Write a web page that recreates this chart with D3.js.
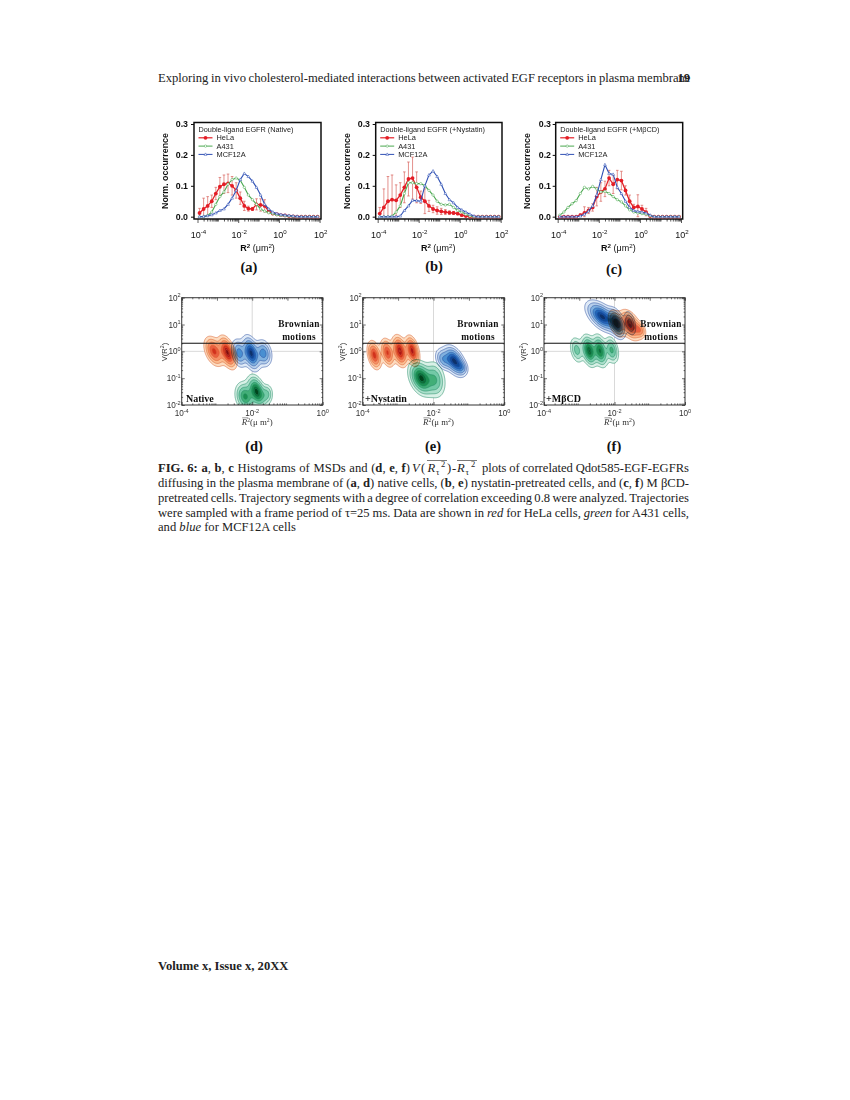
<!DOCTYPE html>
<html><head><meta charset="utf-8">
<script src="https://cdnjs.cloudflare.com/ajax/libs/d3/7.8.5/d3.min.js"></script>
<style>html,body{margin:0;padding:0;background:#fff}svg{display:block}</style></head>
<body><svg id="c" width="850" height="1100"></svg>
<script>
const binExp=[-3.9,-3.7,-3.5,-3.3,-3.1,-2.9,-2.7,-2.5,-2.3,-2.1,-1.9,-1.7,-1.5,-1.3,-1.1,-0.9,-0.7,-0.5,-0.3,-0.1,0.1,0.3,0.5,0.7,0.9,1.1,1.3,1.5,1.7,1.9];
const helaA=[.012,.025,.035,.05,.075,.097,.105,.108,.10,.085,.06,.035,.026,.025,.04,.038,.035,.018,.01,.008,.005,.004,.002,.001,0,0,0,0,0,0];
const a431A=[0,0,.004,.015,.04,.065,.08,.105,.12,.125,.118,.095,.07,.055,.04,.025,.018,.013,.01,.006,.004,.003,.002,.001,0,0,0,0,0,0];
const mcfA=[0,.001,.003,.006,.012,.02,.025,.04,.06,.085,.12,.14,.13,.115,.095,.07,.04,.025,.015,.01,.007,.005,.004,.002,.001,0,0,0,0,0];
const errA=[.015,.035,.03,.02,.02,.03,.03,.03,.03,.025,.02,.015,.008,.005,.018,.02,.02,.008,.003,.002,0,0,0,0,0,0,0,0,0,0];
const helaB=[.01,.03,.05,.055,.053,.07,.095,.122,.125,.095,.063,.05,.035,.025,.02,.017,.015,.013,.012,.01,.005,.002,0,0,0,0,0,0,0,0];
const a431B=[0,0,0,.002,.015,.035,.075,.11,.11,.107,.107,.10,.085,.07,.05,.04,.038,.04,.03,.02,.015,.008,.002,0,0,0,0,0,0,0];
const mcfB=[0,0,0,0,0,.002,.02,.035,.053,.052,.05,.10,.135,.148,.13,.105,.075,.055,.045,.03,.022,.015,.008,.002,0,0,0,0,0,0];
const errB=[.02,.06,.08,.08,.05,.04,.05,.055,.068,.05,.02,.04,.018,.012,.012,.01,.008,.006,.005,.004,.002,0,0,0,0,0,0,0,0,0];
const helaC=[0,0,0,0,0,.005,.012,.02,.03,.065,.08,.09,.125,.105,.12,.117,.085,.05,.03,.033,.025,.015,.002,0,0,0,0,0,0,0];
const a431C=[.005,.015,.03,.042,.052,.075,.095,.09,.098,.09,.08,.082,.075,.065,.055,.048,.035,.022,.015,.012,.01,.008,.003,0,0,0,0,0,0,0];
const mcfC=[0,0,0,0,0,.002,.008,.018,.035,.07,.12,.168,.14,.137,.095,.075,.05,.03,.02,.017,.015,.012,.005,0,0,0,0,0,0,0];
const errC=[0,0,0,0,0,.004,.02,.01,.012,.03,.03,.025,.025,.03,.03,.03,.015,.02,.01,.038,.012,.012,0,0,0,0,0,0,0,0];
const histTitles=["Double-ligand EGFR (Native)","Double-ligand EGFR (+Nystatin)","Double-ligand EGFR (+MβCD)"];
const cellNames=["HeLa","A431","MCF12A"];
const yTickVals=[0,.1,.2,.3];
// contour lobes: log10 R2, log10 V, sigma x, sigma y, correlation, height
const redD=[[-3.08,0,.14,.27,-.4,.72],[-2.7,-.04,.125,.29,-.5,1]];
const blueD=[[-2.37,-.07,.11,.26,-.3,.6],[-2.03,-.07,.125,.31,-.4,1],[-1.68,-.07,.12,.25,-.2,.6]];
const greenD=[[-2.2,-1.69,.14,.27,-.2,.7],[-1.87,-1.5,.13,.29,-.4,1],[-1.58,-1.6,.09,.2,0,.35]];
const redE=[[-3.67,-.14,.1,.26,-.35,.75],[-3.3,-.05,.1,.26,-.35,.7],[-2.95,.01,.11,.28,-.35,.95],[-2.6,.02,.1,.27,-.4,.9]];
const greenE=[[-2.35,-1,.17,.31,-.35,1],[-1.96,-1.05,.15,.34,-.2,.5]];
const blueE=[[-1.41,-.36,.15,.27,-.45,1],[-1.72,-.3,.12,.21,-.3,.45],[-1.2,-.6,.09,.15,-.2,.3]];
const redF=[[-1.56,.98,.15,.27,-.45,.85],[-1.94,1.04,.12,.25,-.45,.6],[-1.28,.8,.09,.16,-.3,.4]];
const blueF=[[-2.35,1.29,.22,.28,-.55,1],[-1.94,1.04,.12,.27,-.45,.9],[-1.56,1.05,.09,.24,-.4,.4]];
const greenF=[[-3.07,.05,.1,.25,-.3,.4],[-2.72,.02,.11,.28,-.35,.95],[-2.41,.02,.11,.29,-.35,.85],[-2.08,.05,.1,.25,-.3,.55]];
const contourLevels=[.08,.18,.32,.5,.66,.82,.94];
const brownianLine=2;
const reds=["#fddcc0","#fbbd92","#f59168","#ea5f40","#d3301f","#ac1219","#800a10"];
const blues=["#dfeaf7","#b6cfeb","#80b1df","#4a8fd1","#2267b9","#0e4a97","#08306b"];
const greens=["#d9f1e7","#abdfcb","#73c9a6","#42ae77","#1f8f50","#0a6c36","#00441b"];

const svg=d3.select("#c");
svg.append("rect").attr("width",850).attr("height",1100).attr("fill","#fff");
const defs=svg.append("defs");
defs.append("filter").attr("id","soft").attr("x","-5%").attr("y","-5%").attr("width","110%").attr("height","110%")
  .append("feGaussianBlur").attr("stdDeviation",.4);
const SANS="Liberation Sans, Arial, sans-serif",SERIF="Liberation Serif, Times New Roman, serif";

function power(g,x,y,p,anchor,size,weight,fill){
  const t=g.append("text").attr("x",x).attr("y",y).attr("text-anchor",anchor).attr("font-family",SANS)
    .attr("font-size",size).attr("font-weight",weight).attr("fill",fill||"#111");
  t.append("tspan").text("10");
  t.append("tspan").attr("dy",-size*.42).attr("font-size",size*.68).text(p<0?"-"+(-p):p);
}
function hist(fx0,fx1,px0,px1,hela,a431,mcf,err,title,yLabX,yTickR,letter,letX,letY){
  const g=svg.append("g").attr("filter","url(#soft)");
  const x=d3.scaleLog().domain([1e-4,1e2]).range([px0,px1]);
  const y=d3.scaleLinear().domain([0,.3]).range([216.7,124]);
  const bottom=219,top=122.5;
  g.append("rect").attr("x",fx0).attr("y",top).attr("width",fx1-fx0).attr("height",bottom-top)
    .attr("fill","#fff").attr("stroke","#111").attr("stroke-width",1.5);
  const ax=d3.axisBottom(x).tickValues([1e-4,1e-2,1,1e2]).tickSize(4).tickFormat("");
  const gx=g.append("g").attr("transform",`translate(0,${bottom})`).call(ax);
  const minors=[];for(let e=-4;e<2;e++)for(const m of [2,3,4,5,6,7,8,9])minors.push(m*10**e);
  const ax2=d3.axisBottom(x).tickValues(minors.concat([1e-3,1e-1,10])).tickSize(2.5).tickFormat("");
  const gx2=g.append("g").attr("transform",`translate(0,${bottom})`).call(ax2);
  [gx,gx2].forEach(s=>{s.select(".domain").remove();s.selectAll("line").attr("stroke","#111").attr("stroke-width",.7)});
  const ay=d3.axisLeft(y).tickValues(yTickVals).tickSize(3).tickFormat("");
  const gy=g.append("g").attr("transform",`translate(${fx0},0)`).call(ay);
  gy.select(".domain").remove();gy.selectAll("line").attr("stroke","#111").attr("stroke-width",1);
  yTickVals.forEach(v=>g.append("text").attr("x",yTickR).attr("y",y(v)+3.2).attr("text-anchor","end")
    .attr("font-family",SANS).attr("font-size",8.8).attr("font-weight","bold").attr("fill","#111").text(d3.format(".1f")(v)));
  [-4,-2,0,2].forEach(p=>power(g,x(10**p)+1,238,p,"middle",9,"normal"));
  g.append("text").attr("transform",`translate(${yLabX},171) rotate(-90)`).attr("text-anchor","middle")
    .attr("font-family",SANS).attr("font-size",8.9).attr("font-weight","bold").attr("fill","#111").text("Norm. occurrence");
  const xl=g.append("text").attr("x",(px0+px1)/2-1).attr("y",251).attr("text-anchor","middle").attr("font-family",SANS).attr("font-size",9).attr("fill","#111");
  xl.append("tspan").attr("font-weight","bold").text("R");
  xl.append("tspan").attr("dy",-3.5).attr("font-size",6.2).attr("font-weight","bold").text("2");
  xl.append("tspan").attr("dy",3.5).text(" (μm");
  xl.append("tspan").attr("dy",-3.5).attr("font-size",6.2).text("2");
  xl.append("tspan").attr("dy",3.5).text(")");
  const lx=fx0+4.5;
  g.append("text").attr("x",lx).attr("y",132).attr("font-family",SANS).attr("font-size",7.3).attr("fill","#222").text(title);
  const styles=[{c:"#e41f26",k:"dot"},{c:"#4aa850",k:"ring"},{c:"#2f50b4",k:"tri"}];
  const mark=(s,st,cx,cy)=>{
    if(st.k==="dot")s.append("circle").attr("cx",cx).attr("cy",cy).attr("r",1.9).attr("fill",st.c);
    if(st.k==="ring")s.append("circle").attr("cx",cx).attr("cy",cy).attr("r",1.2).attr("fill","#fff").attr("stroke",st.c).attr("stroke-width",.5);
    if(st.k==="tri")s.append("path").attr("d",`M${cx},${cy-1.5}L${cx+1.4},${cy+1}L${cx-1.4},${cy+1}Z`).attr("fill","#fff").attr("stroke",st.c).attr("stroke-width",.5);
  };
  cellNames.forEach((n,i)=>{
    const ly=137.8+i*8.3;
    g.append("line").attr("x1",lx).attr("x2",lx+14).attr("y1",ly).attr("y2",ly).attr("stroke",styles[i].c).attr("stroke-width",i?1:1.2);
    mark(g,styles[i],lx+7,ly);
    g.append("text").attr("x",lx+18).attr("y",ly+2.6).attr("font-family",SANS).attr("font-size",7.4).attr("fill","#222").text(n);
  });
  const ex=g.append("g").attr("stroke","#d8635c").attr("stroke-width",.7).attr("fill","none");
  binExp.forEach((e,i)=>{ if(!err[i])return;
    const X=x(10**e),a=y(hela[i]+err[i]),b=y(Math.max(0,hela[i]-err[i]));
    ex.append("line").attr("x1",X).attr("x2",X).attr("y1",a).attr("y2",b);
    ex.append("line").attr("x1",X-1.3).attr("x2",X+1.3).attr("y1",a).attr("y2",a);
    ex.append("line").attr("x1",X-1.3).attr("x2",X+1.3).attr("y1",b).attr("y2",b);
  });
  const line=d3.line().x((d,i)=>x(10**binExp[i])).y(d=>y(d));
  [hela,a431,mcf].forEach((vals,k)=>{
    g.append("path").attr("d",line(vals)).attr("fill","none").attr("stroke",styles[k].c).attr("stroke-width",k?1.1:1.3);
    vals.forEach((v,i)=>mark(g,styles[k],x(10**binExp[i]),y(v)));
  });
  svg.append("text").attr("x",letX).attr("y",letY).attr("text-anchor","middle").attr("font-family",SERIF)
    .attr("font-size",14.5).attr("font-weight","bold").attr("fill","#111").text(letter);
}
hist(194,321,197.5,319.6,helaA,a431A,mcfA,errA,histTitles[0],168,188,"(a)",249,272);
hist(375.7,502,377.7,500.7,helaB,a431B,mcfB,errB,histTitles[1],350,370,"(b)",434,271);
hist(555.7,682.7,557.7,681,helaC,a431C,mcfC,errC,histTitles[2],530,551,"(c)",614,274);

const clipN=(()=>{let n=0;return()=>"clip"+(++n)})();
function contourPanel(fx0,fx1,series,tag,tagX,yLabX,letter,letX,brownX){
  const g=svg.append("g").attr("filter","url(#soft)");
  const top=297.7,bot=405;
  const x=d3.scaleLog().domain([1e-4,1]).range([fx0,fx1]);
  const y=d3.scaleLog().domain([1e-2,1e2]).range([bot,top]);
  g.append("line").attr("x1",x(1e-2)).attr("x2",x(1e-2)).attr("y1",top).attr("y2",bot).attr("stroke","#c8c8c8").attr("stroke-width",.7);
  g.append("line").attr("x1",fx0).attr("x2",fx1).attr("y1",y(1)).attr("y2",y(1)).attr("stroke","#c8c8c8").attr("stroke-width",.7);
  const id=clipN();
  defs.append("clipPath").attr("id",id).append("rect").attr("x",fx0).attr("y",top).attr("width",fx1-fx0).attr("height",bot-top);
  const plot=g.append("g").attr("clip-path",`url(#${id})`).style("isolation","isolate");
  const nx=240,ny=240,gx0=-4,gx1=0,gy0=-2.6,gy1=2;
  const transform=d3.geoTransform({point(a,b){
    this.stream.point(x(10**(gx0+a/nx*(gx1-gx0))),y(10**(gy0+b/ny*(gy1-gy0))));
  }});
  const path=d3.geoPath(transform);
  series.forEach(s=>{
    const vals=new Float64Array(nx*ny);
    for(let j=0;j<ny;j++)for(let i=0;i<nx;i++){
      const u=gx0+(i+.5)/nx*(gx1-gx0),v=gy0+(j+.5)/ny*(gy1-gy0);
      let t=0;
      s.lobes.forEach(([cx,cy,sx,sy,r,h])=>{
        const a=(u-cx)/sx,b=(v-cy)/sy;
        t+=h*Math.exp(-(a*a-2*r*a*b+b*b)/(2*(1-r*r)));
      });
      vals[j*nx+i]=t;
    }
    const cs=d3.contours().size([nx,ny]).thresholds(contourLevels)(vals);
    const sg=plot.append("g").style("mix-blend-mode","multiply");
    cs.forEach((c,i)=>sg.append("path").attr("d",path(c)).attr("fill",s.ramp[i]).attr("stroke",s.line).attr("stroke-width",.55));
  });
  g.append("line").attr("x1",fx0).attr("x2",fx1).attr("y1",y(brownianLine)).attr("y2",y(brownianLine)).attr("stroke","#111").attr("stroke-width",1.2);
  g.append("rect").attr("x",fx0).attr("y",top).attr("width",fx1-fx0).attr("height",bot-top).attr("fill","none").attr("stroke","#444").attr("stroke-width",1.1);
  const minorX=[];for(let e=-4;e<0;e++)for(const m of [2,3,4,5,6,7,8,9])minorX.push(m*10**e);
  const minorY=[];for(let e=-2;e<2;e++)for(const m of [2,3,4,5,6,7,8,9])minorY.push(m*10**e);
  const style=s=>{s.select(".domain").remove();s.selectAll("line").attr("stroke","#111").attr("stroke-width",.6)};
  g.append("g").attr("transform",`translate(0,${top})`).call(d3.axisBottom(x).tickValues(minorX).tickSize(1.6).tickFormat("")).call(style);
  g.append("g").attr("transform",`translate(0,${top})`).call(d3.axisBottom(x).tickValues([1e-4,1e-3,1e-2,1e-1,1]).tickSize(3).tickFormat("")).call(style);
  g.append("g").attr("transform",`translate(0,${bot})`).call(d3.axisTop(x).tickValues(minorX).tickSize(1.6).tickFormat("")).call(style);
  g.append("g").attr("transform",`translate(0,${bot})`).call(d3.axisTop(x).tickValues([1e-4,1e-2,1]).tickSize(3).tickFormat("")).call(style);
  g.append("g").attr("transform",`translate(${fx0},0)`).call(d3.axisRight(y).tickValues(minorY).tickSize(1.4).tickFormat("")).call(style);
  g.append("g").attr("transform",`translate(${fx0},0)`).call(d3.axisRight(y).tickValues([1e-2,.1,1,10,100]).tickSize(3).tickFormat("")).call(style);
  g.append("g").attr("transform",`translate(${fx1},0)`).call(d3.axisLeft(y).tickValues(minorY).tickSize(1.4).tickFormat("")).call(style);
  g.append("g").attr("transform",`translate(${fx1},0)`).call(d3.axisLeft(y).tickValues([1e-2,.1,1,10,100]).tickSize(3).tickFormat("")).call(style);
  [-4,-2,0].forEach(p=>power(g,x(10**p),416,p,"middle",8.2,"normal","#333"));
  [-2,-1,0,1,2].forEach(p=>power(g,fx0-1,y(10**p)+3,p,"end",8.2,"normal","#333"));
  const vl=g.append("text").attr("transform",`translate(${yLabX},352) rotate(-90)`).attr("text-anchor","middle").attr("font-family",SANS).attr("font-size",7.6).attr("fill","#333");
  vl.append("tspan").text("V(R");vl.append("tspan").attr("dy",-2.6).attr("font-size",5.2).text("2");vl.append("tspan").attr("dy",2.6).text(")");
  const rx=(fx0+fx1)/2+5;
  const xl=g.append("text").attr("x",rx).attr("y",425).attr("text-anchor","middle").attr("font-family",SERIF).attr("font-size",8.8).attr("fill","#333");
  xl.append("tspan").attr("font-style","italic").text("R");xl.append("tspan").attr("dy",-2.8).attr("font-size",5.8).text("2");
  xl.append("tspan").attr("dy",2.8).text("(μ m");xl.append("tspan").attr("dy",-2.8).attr("font-size",5.8).text("2");xl.append("tspan").attr("dy",2.8).text(")");
  g.append("line").attr("x1",rx-15).attr("x2",rx-9).attr("y1",417.8).attr("y2",417.8).attr("stroke","#333").attr("stroke-width",.5);
  const b=g.append("g").attr("font-family",SERIF).attr("font-size",9.3).attr("font-weight","bold").attr("fill","#111").attr("text-anchor","middle").attr("letter-spacing",.3);
  b.append("text").attr("x",brownX).attr("y",327).text("Brownian");
  b.append("text").attr("x",brownX).attr("y",340).text("motions");
  g.append("text").attr("x",tagX).attr("y",402).attr("font-family",SERIF).attr("font-size",10).attr("font-weight","bold").attr("fill","#111").text(tag);
  svg.append("text").attr("x",letX).attr("y",451).attr("text-anchor","middle").attr("font-family",SERIF).attr("font-size",14.5).attr("font-weight","bold").attr("fill","#111").text(letter);
}
const S=(lobes,ramp,line)=>({lobes,ramp,line});
contourPanel(181.7,322.7,[S(redD,reds,"#d9622f"),S(blueD,blues,"#2a4ea0"),S(greenD,greens,"#1f8a63")],"Native",186,166.5,"(d)",254,299);
contourPanel(362.7,504.3,[S(redE,reds,"#d9622f"),S(greenE,greens,"#1f8a63"),S(blueE,blues,"#2a4ea0")],"+Nystatin",365,344.5,"(e)",433,478);
contourPanel(544,685,[S(redF,reds,"#d9622f"),S(greenF,greens,"#1f8a63"),S(blueF,blues,"#2a4ea0")],"+MβCD",546,525.5,"(f)",614,661);

const FS=12.6;
const txt=svg.append("g").attr("font-family",SERIF).attr("fill","#222").attr("font-size",FS);
txt.append("text").attr("x",158).attr("y",82).attr("id","hdr").text("Exploring in vivo cholesterol-mediated interactions between activated EGF receptors in plasma membrane");
txt.append("text").attr("x",690).attr("y",82).attr("text-anchor","end").attr("font-weight","bold").text("19");
function rich(x,y,parts,right){
  const t=txt.append("text").attr("x",x).attr("y",y);
  parts.forEach(([s,st])=>{const p=t.append("tspan").text(s);
    if(st==="b")p.attr("font-weight","bold");if(st==="i")p.attr("font-style","italic");});
  if(right){
    const len=t.node().getComputedTextLength();
    const gaps=parts.map(p=>p[0]).join("").split(" ").length-1;
    t.attr("word-spacing",((right-x-len)/gaps).toFixed(3));
  }
}
const hdrN=d3.select("#hdr").node();
d3.select("#hdr").attr("word-spacing",((690-158-hdrN.getComputedTextLength())/12).toFixed(3));
rich(158,472,[["FIG. 6:","b"],[" "],["a","b"],[", "],["b","b"],[", "],["c","b"],[" Histograms of MSDs and ("],["d","b"],[", "],["e","b"],[", "],["f","b"],[")"]],410);
rich(482,472,[["plots of correlated Qdot585-EGF-EGFRs"]],689);
rich(158,487,[["diffusing in the plasma membrane of ("],["a","b"],[", "],["d","b"],[") native cells, ("],["b","b"],[", "],["e","b"],[") nystatin-pretreated cells, and ("],["c","b"],[", "],["f","b"],[") M βCD-"]],689);
rich(158,501.5,[["pretreated cells. Trajectory segments with a degree of correlation exceeding 0.8 were analyzed. Trajectories"]],689);
rich(158,516.5,[["were sampled with a frame period of τ=25 ms. Data are shown in "],["red","i"],[" for HeLa cells, "],["green","i"],[" for A431 cells,"]],689);
rich(158,531,[["and "],["blue","i"],[" for MCF12A cells"]]);
const m=txt.append("g");
const mt=(x,y,s,sz,it)=>m.append("text").attr("x",x).attr("y",y).attr("font-size",sz).attr("font-style",it?"italic":"normal").text(s);
mt(412,472,"V",FS,true);mt(421,472,"(",FS);mt(427.5,472,"R",FS,true);mt(436,475,"τ",8.5);mt(441,467,"2",8.5);
mt(447,472,")",FS);mt(452,472,"-",FS);mt(457,472,"R",FS,true);mt(465.5,475,"τ",8.5);mt(471,467,"2",8.5);
m.append("line").attr("x1",427).attr("x2",447).attr("y1",460.5).attr("y2",460.5).attr("stroke","#222").attr("stroke-width",.6);
m.append("line").attr("x1",457).attr("x2",477).attr("y1",460.5).attr("y2",460.5).attr("stroke","#222").attr("stroke-width",.6);
txt.append("text").attr("x",158).attr("y",970).attr("font-weight","bold").text("Volume x, Issue x, 20XX");
</script></body></html>
